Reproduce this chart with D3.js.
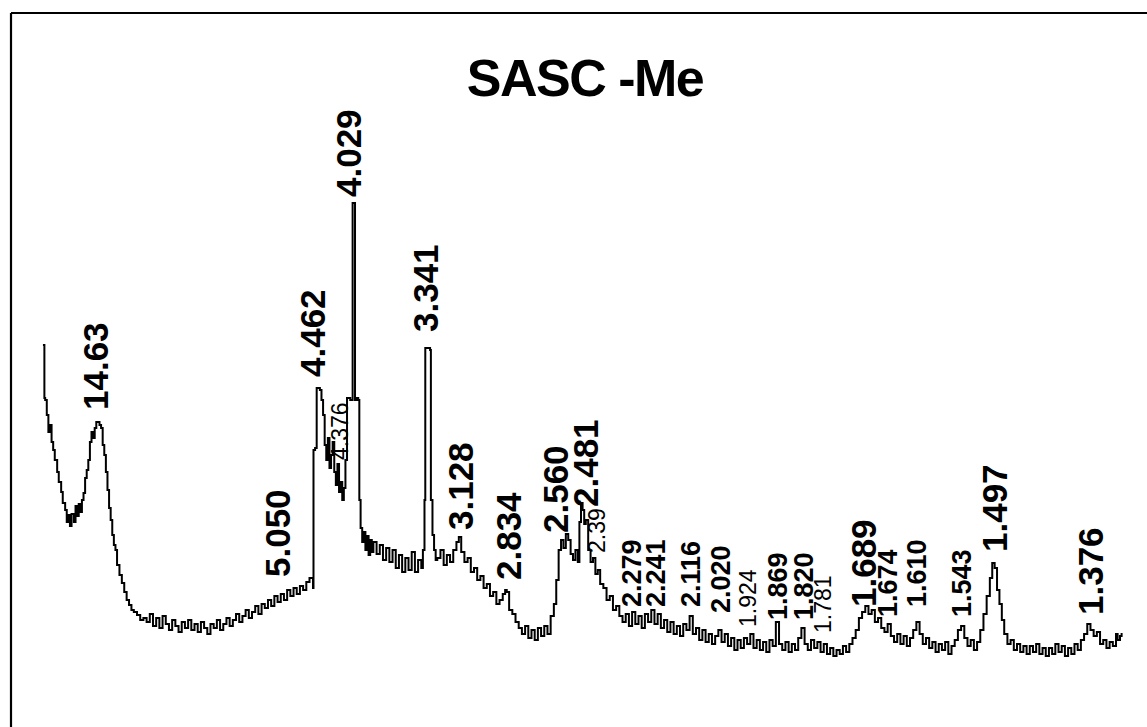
<!DOCTYPE html>
<html><head><meta charset="utf-8">
<script src="https://cdn.jsdelivr.net/npm/d3@7"></script>
<style>
html,body{margin:0;padding:0;background:#fff;}
svg{display:block;}
text{font-family:"Liberation Sans",Arial,sans-serif;fill:#000;}
</style></head>
<body>
<svg id="chart" width="1147" height="727"></svg>
<script>
// ---- DATA ----
const chartTitle = "SASC -Me";
// 2-theta (deg) of each sample
const angles = [
2.31,2.40,2.45,2.55,2.65,2.75,2.85,2.95,3.05,3.2,3.3,3.45,3.55,3.7,3.8,3.9,4.0,4.1,4.25,4.35,4.45,4.55,4.65,4.75,4.85,4.95,5.05,5.15,5.25,5.35,5.45,5.55,5.65,5.75,5.85,5.95,6.05,6.15,6.25,6.35,6.45,6.55,6.65,6.75,6.85,6.95,7.1,7.25,7.4,7.55,7.7,7.85,8.0,8.2,8.4,8.6,
8.8,9.0,9.2,9.4,9.6,9.8,10.0,10.2,10.4,10.6,10.8,11.0,11.2,11.4,11.6,11.8,12.0,12.2,12.4,12.6,12.8,13.0,13.2,13.4,13.6,13.8,14.0,14.2,14.4,14.6,14.8,15.0,15.2,15.4,15.6,15.8,16.0,16.2,16.4,16.6,16.8,17.0,17.2,17.4,17.6,17.8,18.0,18.2,18.4,18.6,18.8,19.0,
19.22,19.25,19.35,19.45,19.55,19.65,19.75,19.85,19.95,20.05,20.15,20.25,20.35,20.45,20.55,20.65,20.75,20.85,20.95,21.05,21.15,21.25,21.35,21.45,21.55,21.62,21.7,21.78,21.85,21.95,22.05,22.12,22.2,22.3,22.4,22.5,22.6,22.7,22.8,22.9,
23.0,23.2,23.4,23.6,23.8,24.0,24.2,24.4,24.6,24.8,25.0,25.2,25.4,25.6,25.8,26.0,26.1,26.2,26.25,26.4,26.55,26.6,26.7,26.8,26.9,
27.0,27.2,27.4,27.6,27.8,28.0,28.2,28.35,28.5,28.7,28.9,29.1,29.3,29.5,29.7,29.9,30.1,30.3,30.5,30.7,30.9,31.1,31.25,31.35,31.5,31.7,31.9,32.1,32.3,32.5,32.7,32.9,33.1,33.3,33.5,33.7,33.9,34.1,34.3,34.45,34.6,34.75,34.9,35.05,35.2,35.35,35.5,35.65,35.8,35.9,36.0,36.1,36.2,36.3,36.45,36.6,36.75,36.9,37.05,37.2,37.4,37.6,37.8,38.0,38.2,38.4,
38.6,38.8,39.0,39.2,39.4,39.6,39.8,40.0,40.2,40.4,40.6,40.8,41.0,41.2,41.4,41.6,41.8,42.0,42.2,42.4,42.6,42.8,43.0,43.2,43.4,43.6,43.8,44.0,44.2,44.4,44.6,44.8,45.0,45.2,45.4,45.6,45.8,46.0,46.2,46.4,46.6,46.8,47.0,47.2,47.4,47.6,47.8,48.0,48.2,48.4,48.6,48.8,49.0,49.2,49.4,49.6,49.8,50.0,50.2,50.4,50.6,50.8,51.0,51.2,51.4,51.6,51.8,52.0,52.2,52.4,52.6,52.8,
53.0,53.2,53.4,53.6,53.8,54.0,54.2,54.4,54.6,54.8,55.0,55.2,55.4,55.6,55.8,56.0,56.2,56.4,56.6,56.8,57.0,57.2,57.4,57.6,57.8,58.0,58.2,58.4,58.6,58.8,59.0,59.2,59.4,59.6,59.8,60.0,60.2,60.4,60.6,60.8,61.0,61.2,61.4,61.6,61.75,61.9,62.05,62.2,62.35,62.5,62.7,62.9,63.1,63.3,63.5,63.7,63.9,64.1,64.3,64.5,64.7,64.9,65.1,65.3,65.5,65.7,65.9,66.1,66.3,66.5,66.7,66.9,67.1,67.3,67.5,67.7,67.9,68.1,68.3,68.5,68.7,68.9,69.1,69.3,69.5,69.6,69.75,69.85
];
// intensity (arbitrary units) at each sample
const counts = [
355,302,300,285,268,275,258,250,240,228,218,208,197,190,178,185,174,186,178,194,184,196,188,200,207,222,230,240,258,268,262,272,278,278,275,272,255,245,228,210,192,180,165,155,150,135,125,117,108,100,95,90,88,85,80,82,
78,86,74,82,72,84,76,70,80,74,68,78,72,80,70,76,68,78,72,66,76,72,80,70,76,82,74,80,86,78,84,90,82,88,94,86,96,92,100,94,104,98,106,100,110,104,112,106,114,110,118,122,
112,250,252,312,312,310,300,285,255,240,262,232,245,258,228,215,236,208,218,200,212,240,302,302,300,300,497,497,300,302,300,200,172,158,168,150,164,145,160,148,
158,146,155,140,152,138,150,132,145,128,142,130,148,128,140,132,150,200,352,352,350,200,165,150,140,
142,150,135,145,138,150,158,163,148,138,142,128,132,120,124,112,116,104,108,96,100,106,110,108,90,86,78,72,66,74,62,70,60,72,64,74,66,84,96,120,150,160,152,166,160,146,140,150,138,178,197,190,176,180,150,138,142,126,130,116,112,100,104,90,94,84,
78,86,74,88,76,84,72,86,78,90,76,86,72,80,68,78,66,74,64,76,70,84,66,72,60,70,58,66,56,64,70,58,66,54,62,50,60,52,62,56,66,52,60,50,58,48,60,54,78,56,50,58,48,56,50,62,72,56,50,60,52,58,48,56,46,52,44,50,46,54,48,56,
62,70,82,88,94,86,90,78,82,72,68,76,64,58,66,56,64,54,62,70,78,66,56,62,52,58,48,56,50,58,46,54,60,70,74,62,54,60,50,58,70,86,104,122,137,132,110,96,80,66,56,60,50,56,48,54,46,54,48,56,46,52,44,52,46,56,48,54,44,52,46,56,50,60,66,76,70,64,68,56,60,52,58,54,66,60,64,67
];
// peak labels: d-spacing text, 2-theta of label, intensity level at label foot
const majorLabels = ["14.63","5.050","4.462","4.029","3.341","3.128","2.834","2.560","2.481","1.689","1.497","1.376"];
const majorAngles = [5.57,16.97,19.16,21.41,26.23,28.42,31.43,34.37,36.25,53.66,61.86,67.87];
const majorLevels = [290,123,323,503,368,170,120,167,193,93,148,85];
const minorLabels = ["2.279","2.241","2.116","2.020","1.869","1.820","1.674","1.610","1.543"];
const minorAngles = [39.13,40.64,42.83,44.71,48.27,49.90,55.16,56.98,59.80];
const minorLevels = [93,93,93,87,80,80,83,93,83];
const tinyLabels = ["4.376","2.39","1.924","1.781"];
const tinyAngles = [20.91,37.00,46.46,51.15];
const tinyLevels = [240,147,73,67];

// ---- DRAW ----
const svg = d3.select("#chart");
const x = d3.scaleLinear().domain([2, 70]).range([38, 1124]);
const y = d3.scaleLinear().domain([0, 500]).range([700, 200]);

// frame (top and left edges visible)
svg.append("line").attr("x1", 11).attr("y1", 13).attr("x2", 1147).attr("y2", 13)
  .attr("stroke", "#000").attr("stroke-width", 2.2);
svg.append("line").attr("x1", 11).attr("y1", 13).attr("x2", 11).attr("y2", 727)
  .attr("stroke", "#000").attr("stroke-width", 2.2);

svg.append("text").attr("x", 585).attr("y", 96).attr("text-anchor", "middle")
  .attr("font-size", 52).attr("font-weight", "bold").attr("letter-spacing", -1.5)
  .text(chartTitle);

const pts = angles.map((a, i) => [a, counts[i]]);
const line = d3.line().x(d => x(d[0])).y(d => y(d[1])).curve(d3.curveStepAfter);
svg.append("path").datum(pts).attr("d", line)
  .attr("fill", "none").attr("stroke", "#000").attr("stroke-width", 2)
  .attr("stroke-linejoin", "miter");

function drawLabels(texts, ang, lev, size, weight) {
  svg.append("g").selectAll("text").data(texts).join("text")
    .attr("transform", (d, i) => `translate(${x(ang[i])},${y(lev[i])}) rotate(-90)`)
    .attr("dy", "0.36em")
    .attr("font-size", size).attr("font-weight", weight)
    .text(d => d);
}
drawLabels(majorLabels, majorAngles, majorLevels, 35, "bold");
drawLabels(minorLabels, minorAngles, minorLevels, 27, "bold");
drawLabels(tinyLabels, tinyAngles, tinyLevels, 23, "normal");
</script>
</body></html>
